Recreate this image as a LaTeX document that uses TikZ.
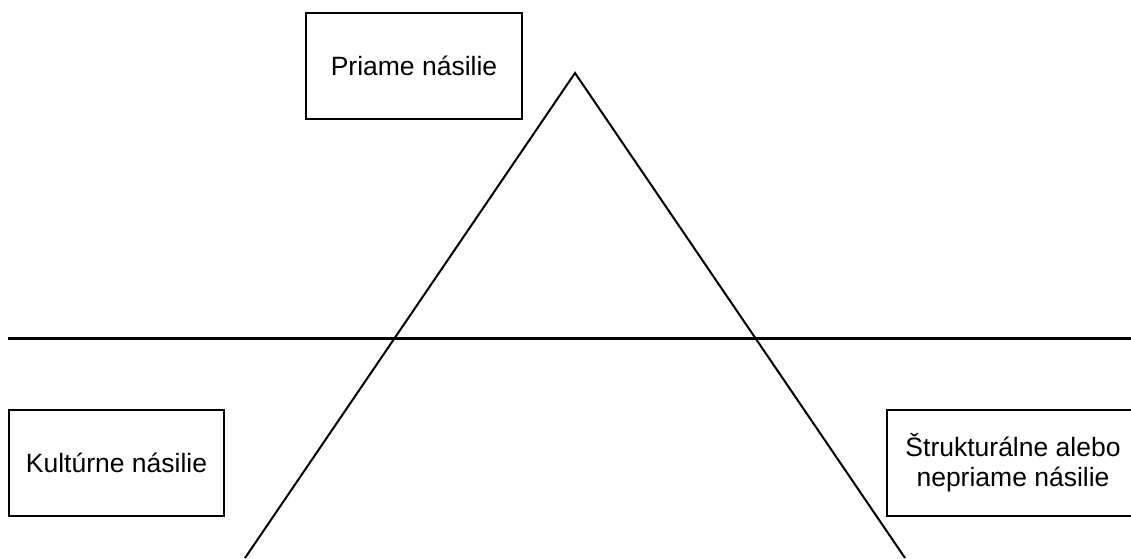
\documentclass[tikz,border=0pt]{standalone}
\usepackage{fontspec}
\setmainfont{Liberation Sans}
\usepackage{tikz}
\usetikzlibrary{positioning}

\begin{document}
\begin{tikzpicture}[
   x=1pt, y=-1pt,
   box/.style={draw, line width=2pt, align=center, inner sep=0pt,
               font=\fontsize{26.5}{30}\selectfont, minimum height=106pt},
   leg/.style={line width=2pt},
   divider/.style={line width=3pt}]

  \useasboundingbox (0,0) rectangle (1131,558);
  \clip (0,0) rectangle (1131,558);

  % the three boxes
  \node[box, minimum width=216pt] (direct) at (414,65.5) {Priame násilie};
  \node[box, minimum width=215pt] (cultural) at (116.5,462.5) {Kultúrne násilie};
  \node[box, minimum width=252pt] (structural) at (1013,462.5)
       {Štrukturálne alebo\\nepriame násilie};

  % triangle and the line across it
  \coordinate (apex) at (575,73);
  \coordinate (baseL) at (245,558);
  \coordinate (baseR) at (905,558);
  \coordinate (lineL) at (8,338);
  \coordinate (lineR) at (1131,338);

  \draw[leg] (baseL) -- (apex) -- (baseR);
  \draw[divider] (lineL) -- (lineR);
\end{tikzpicture}
\end{document}
